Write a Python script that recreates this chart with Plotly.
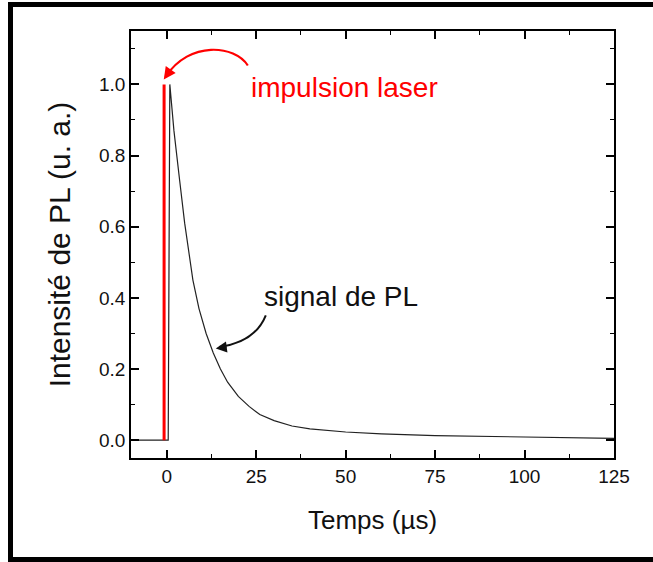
import plotly.graph_objects as go

# ---- data ----
t_signal = [-10, 0.4, 0.85, 2, 3.6, 5, 7.3, 9, 11, 13, 15, 17, 20, 23, 26, 30,
            35, 40, 50, 60, 75, 90, 100, 110, 125]
i_signal = [0, 0, 1.0, 0.87, 0.73, 0.61, 0.45, 0.37, 0.30, 0.245, 0.20, 0.163,
            0.123, 0.095, 0.072, 0.055, 0.040, 0.032, 0.023, 0.018, 0.013,
            0.010, 0.008, 0.007, 0.005]

t_laser = [-0.75, -0.75]
i_laser = [0, 1.0]

x_ticks = [0, 25, 50, 75, 100, 125]
y_ticks = [0.0, 0.2, 0.4, 0.6, 0.8, 1.0]

FONT = "Liberation Sans, Arial, sans-serif"

fig = go.Figure()
fig.add_trace(go.Scatter(x=t_signal, y=i_signal, mode="lines",
                         line=dict(color="#222222", width=1.2),
                         showlegend=False, hoverinfo="skip"))
fig.add_trace(go.Scatter(x=t_laser, y=i_laser, mode="lines",
                         line=dict(color="#ff0000", width=3),
                         showlegend=False, hoverinfo="skip"))

axis_common = dict(showline=True, linecolor="black", linewidth=1.5,
                   mirror="ticks", ticks="inside", ticklen=8, tickwidth=1.5,
                   tickcolor="black", showgrid=False, zeroline=False,
                   tickfont=dict(family=FONT, size=19, color="#111111"))

fig.update_xaxes(range=[-10, 125], tickvals=x_ticks,
                 minor=dict(dtick=12.5, tick0=0, ticks="inside", ticklen=4,
                            tickwidth=1.2, tickcolor="black"),
                 title=dict(text="Temps (µs)", standoff=25,
                            font=dict(family=FONT, size=26, color="#111111")),
                 **axis_common)
fig.update_yaxes(range=[-0.05, 1.15], tickvals=y_ticks, tickformat=".1f",
                 minor=dict(dtick=0.1, tick0=0, ticks="inside", ticklen=4,
                            tickwidth=1.2, tickcolor="black"),
                 title=dict(text="Intensité de PL (u. a.)", standoff=20,
                            font=dict(family=FONT, size=30, color="#111111")),
                 **axis_common)

shapes = []
# red curved arrow (impulsion laser)
shapes.append(dict(type="path", xref="x", yref="y",
                   path="M 22.65,1.053 C 19.02,1.110 6.43,1.124 -0.3,1.022",
                   line=dict(color="#ff0000", width=2.2)))
# black curved arrow (signal de PL)
shapes.append(dict(type="path", xref="x", yref="y",
                   path="M 27.68,0.351 Q 24.61,0.275 14.6,0.262",
                   line=dict(color="#111111", width=2)))


# outer black frame (left, top, bottom)
def px_to_paper_x(px):
    return (px - 131) / 483.0


def px_to_paper_y(py):
    return (458 - py) / 427.0


shapes.append(dict(type="line", xref="paper", yref="paper",
                   x0=px_to_paper_x(10.5), x1=px_to_paper_x(10.5),
                   y0=px_to_paper_y(2), y1=px_to_paper_y(562),
                   line=dict(color="black", width=5)))
shapes.append(dict(type="line", xref="paper", yref="paper",
                   x0=px_to_paper_x(8), x1=px_to_paper_x(660),
                   y0=px_to_paper_y(4.5), y1=px_to_paper_y(4.5),
                   line=dict(color="black", width=5)))
shapes.append(dict(type="line", xref="paper", yref="paper",
                   x0=px_to_paper_x(8), x1=px_to_paper_x(660),
                   y0=px_to_paper_y(559.5), y1=px_to_paper_y(559.5),
                   line=dict(color="black", width=5)))

annotations = [
    dict(x=23.0, y=0.99, xref="x", yref="y", text="impulsion laser",
         showarrow=False, xanchor="left", yanchor="middle",
         font=dict(family=FONT, size=28, color="#ff0000")),
    dict(x=26.6, y=0.404, xref="x", yref="y", text="signal de PL",
         showarrow=False, xanchor="left", yanchor="middle",
         font=dict(family=FONT, size=28, color="#111111")),
    # arrow heads
    dict(x=-0.84, y=1.014, xref="x", yref="y", text="", showarrow=True,
         ax=7, ay=-10, arrowhead=2, arrowsize=1.1, arrowwidth=2.2,
         arrowcolor="#ff0000", standoff=0),
    dict(x=13.7, y=0.258, xref="x", yref="y", text="", showarrow=True,
         ax=12, ay=-1.6, arrowhead=2, arrowsize=1.1, arrowwidth=2,
         arrowcolor="#111111", standoff=0),
]

fig.update_layout(width=653, height=562,
                  margin=dict(l=131, r=39, t=31, b=104),
                  paper_bgcolor="white", plot_bgcolor="white",
                  shapes=shapes, annotations=annotations,
                  showlegend=False)

fig.write_html("out.html", config={"displayModeBar": False},
               post_script="document.body.style.margin='0';"
                           "document.body.style.padding='0';")
